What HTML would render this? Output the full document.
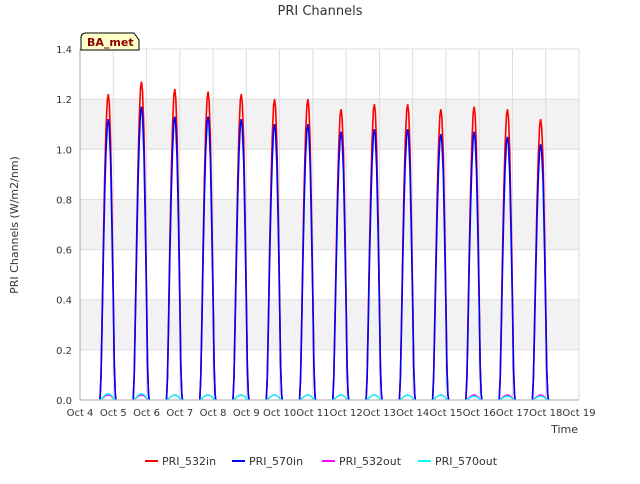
<!DOCTYPE html>
<html><head><meta charset="utf-8"><style>
body{margin:0;background:#fff;font-family:"DejaVu Sans","Liberation Sans",sans-serif}
text{font-family:"DejaVu Sans","Liberation Sans",sans-serif}
</style></head><body>
<svg id="c" width="640" height="480" viewBox="0 0 640 480">
<rect width="640" height="480" fill="#fff"/>
<g id="bands"></g>
<g id="grid"></g>
<g id="series"></g>
<g id="axes"></g>
<text x="320" y="15" text-anchor="middle" font-size="13" fill="#333">PRI Channels</text>
<text x="18" y="225" text-anchor="middle" font-size="11" fill="#333" transform="rotate(-90 18 225)">PRI Channels (W/m2/nm)</text>
<text x="578" y="433" text-anchor="end" font-size="11" fill="#333">Time</text>
<g>
<path d="M81,50 L81,38 Q81,33 86,33 L134,33 L139,40 L139,50 Z" fill="#ffffc8" stroke="#000" stroke-width="1"/>
<text x="87" y="46" font-size="11" font-weight="bold" fill="#8b0000">BA_met</text>
</g>
<g id="legend"></g>
</svg>
<script>
const dayLabels=["Oct 4","Oct 5","Oct 6","Oct 7","Oct 8","Oct 9","Oct 10","Oct 11","Oct 12","Oct 13","Oct 14","Oct 15","Oct 16","Oct 17","Oct 18","Oct 19"];
const yTicks=[0.0,0.2,0.4,0.6,0.8,1.0,1.2,1.4];
const peak532in=[1.22,1.27,1.24,1.23,1.22,1.20,1.20,1.16,1.18,1.18,1.16,1.17,1.16,1.12];
const peak570in=[1.12,1.17,1.13,1.13,1.12,1.10,1.10,1.07,1.08,1.08,1.06,1.07,1.05,1.02];
const peak532out=[0.02,0.02,0.02,0.02,0.02,0.02,0.02,0.02,0.02,0.02,0.02,0.02,0.02,0.02];
const peak570out=[0.025,0.025,0.02,0.02,0.02,0.02,0.02,0.02,0.02,0.02,0.02,0.015,0.015,0.015];
const profileT=[0.60,0.63,0.66,0.70,0.74,0.78,0.82,0.85,0.88,0.92,0.96,1.00,1.03,1.06,1.08];
const profileF=[0,0.08,0.25,0.5,0.72,0.88,0.98,1.0,0.97,0.85,0.62,0.35,0.12,0.02,0];
const X0=80,X1=579,Y0=400,Y1=49;
const x=d=>X0+(X1-X0)*d/15;
const y=v=>Y0-(Y0-Y1)*v/1.4;
const ns="http://www.w3.org/2000/svg";
function mk(t,a,p){const e=document.createElementNS(ns,t);for(const k in a)e.setAttribute(k,a[k]);p.appendChild(e);return e;}
const bands=document.getElementById('bands'),grid=document.getElementById('grid'),axes=document.getElementById('axes'),series=document.getElementById('series');
for(let i=0;i<yTicks.length-1;i++){const r=mk('rect',{x:X0,y:y(yTicks[i+1]),width:X1-X0,height:y(yTicks[i])-y(yTicks[i+1]),fill:i%2?'#f2f2f2':'#fff'},bands);
}
yTicks.forEach(v=>{const l=mk('line',{x1:X0,x2:X1,y1:y(v),y2:y(v),stroke:'#ddd','stroke-width':1},grid);

const t=mk('text',{x:X0-8,y:y(v)+4,'text-anchor':'end','font-size':10,fill:'#333'},axes);t.textContent=v.toFixed(1);
});
dayLabels.forEach((s,i)=>{const l=mk('line',{x1:x(i),x2:x(i),y1:Y1,y2:Y0,stroke:'#ddd','stroke-width':1},grid);

const t=mk('text',{x:x(i),y:Y0+16,'text-anchor':'middle','font-size':10,fill:'#333'},axes);t.textContent=s;
});
const ax=mk('path',{d:`M${X0},${Y1}V${Y0}H${X1}`,fill:'none',stroke:'#aaa'},axes);

function draw(peaks,col,w,name){let d='';
peaks.forEach((p,i)=>{profileT.forEach((t,j)=>{d+=(j?'L':'M')+x(i+t).toFixed(1)+','+y(p*profileF[j]).toFixed(1);});});
const e=mk('path',{d,fill:'none',stroke:col,'stroke-width':w},series);
}
draw(peak532in,'#ff0000',1.6,'series-pri-532in');
draw(peak570in,'#0000ff',1.6,'series-pri-570in');
draw(peak532out,'#ff00ff',1.4,'series-pri-532out');
draw(peak570out,'#00ffff',1.4,'series-pri-570out');
const lg=document.getElementById('legend');
[["PRI_532in","#ff0000",145],["PRI_570in","#0000ff",232],["PRI_532out","#ff00ff",322],["PRI_570out","#00ffff",418]].forEach(([n,c,lx])=>{
const g=mk('g',{},lg);
mk('line',{x1:lx,x2:lx+13,y1:461,y2:461,stroke:c,'stroke-width':2},g);
const t=mk('text',{x:lx+17,y:465,'font-size':11,fill:'#333'},g);t.textContent=n;});
</script>
</body></html>
